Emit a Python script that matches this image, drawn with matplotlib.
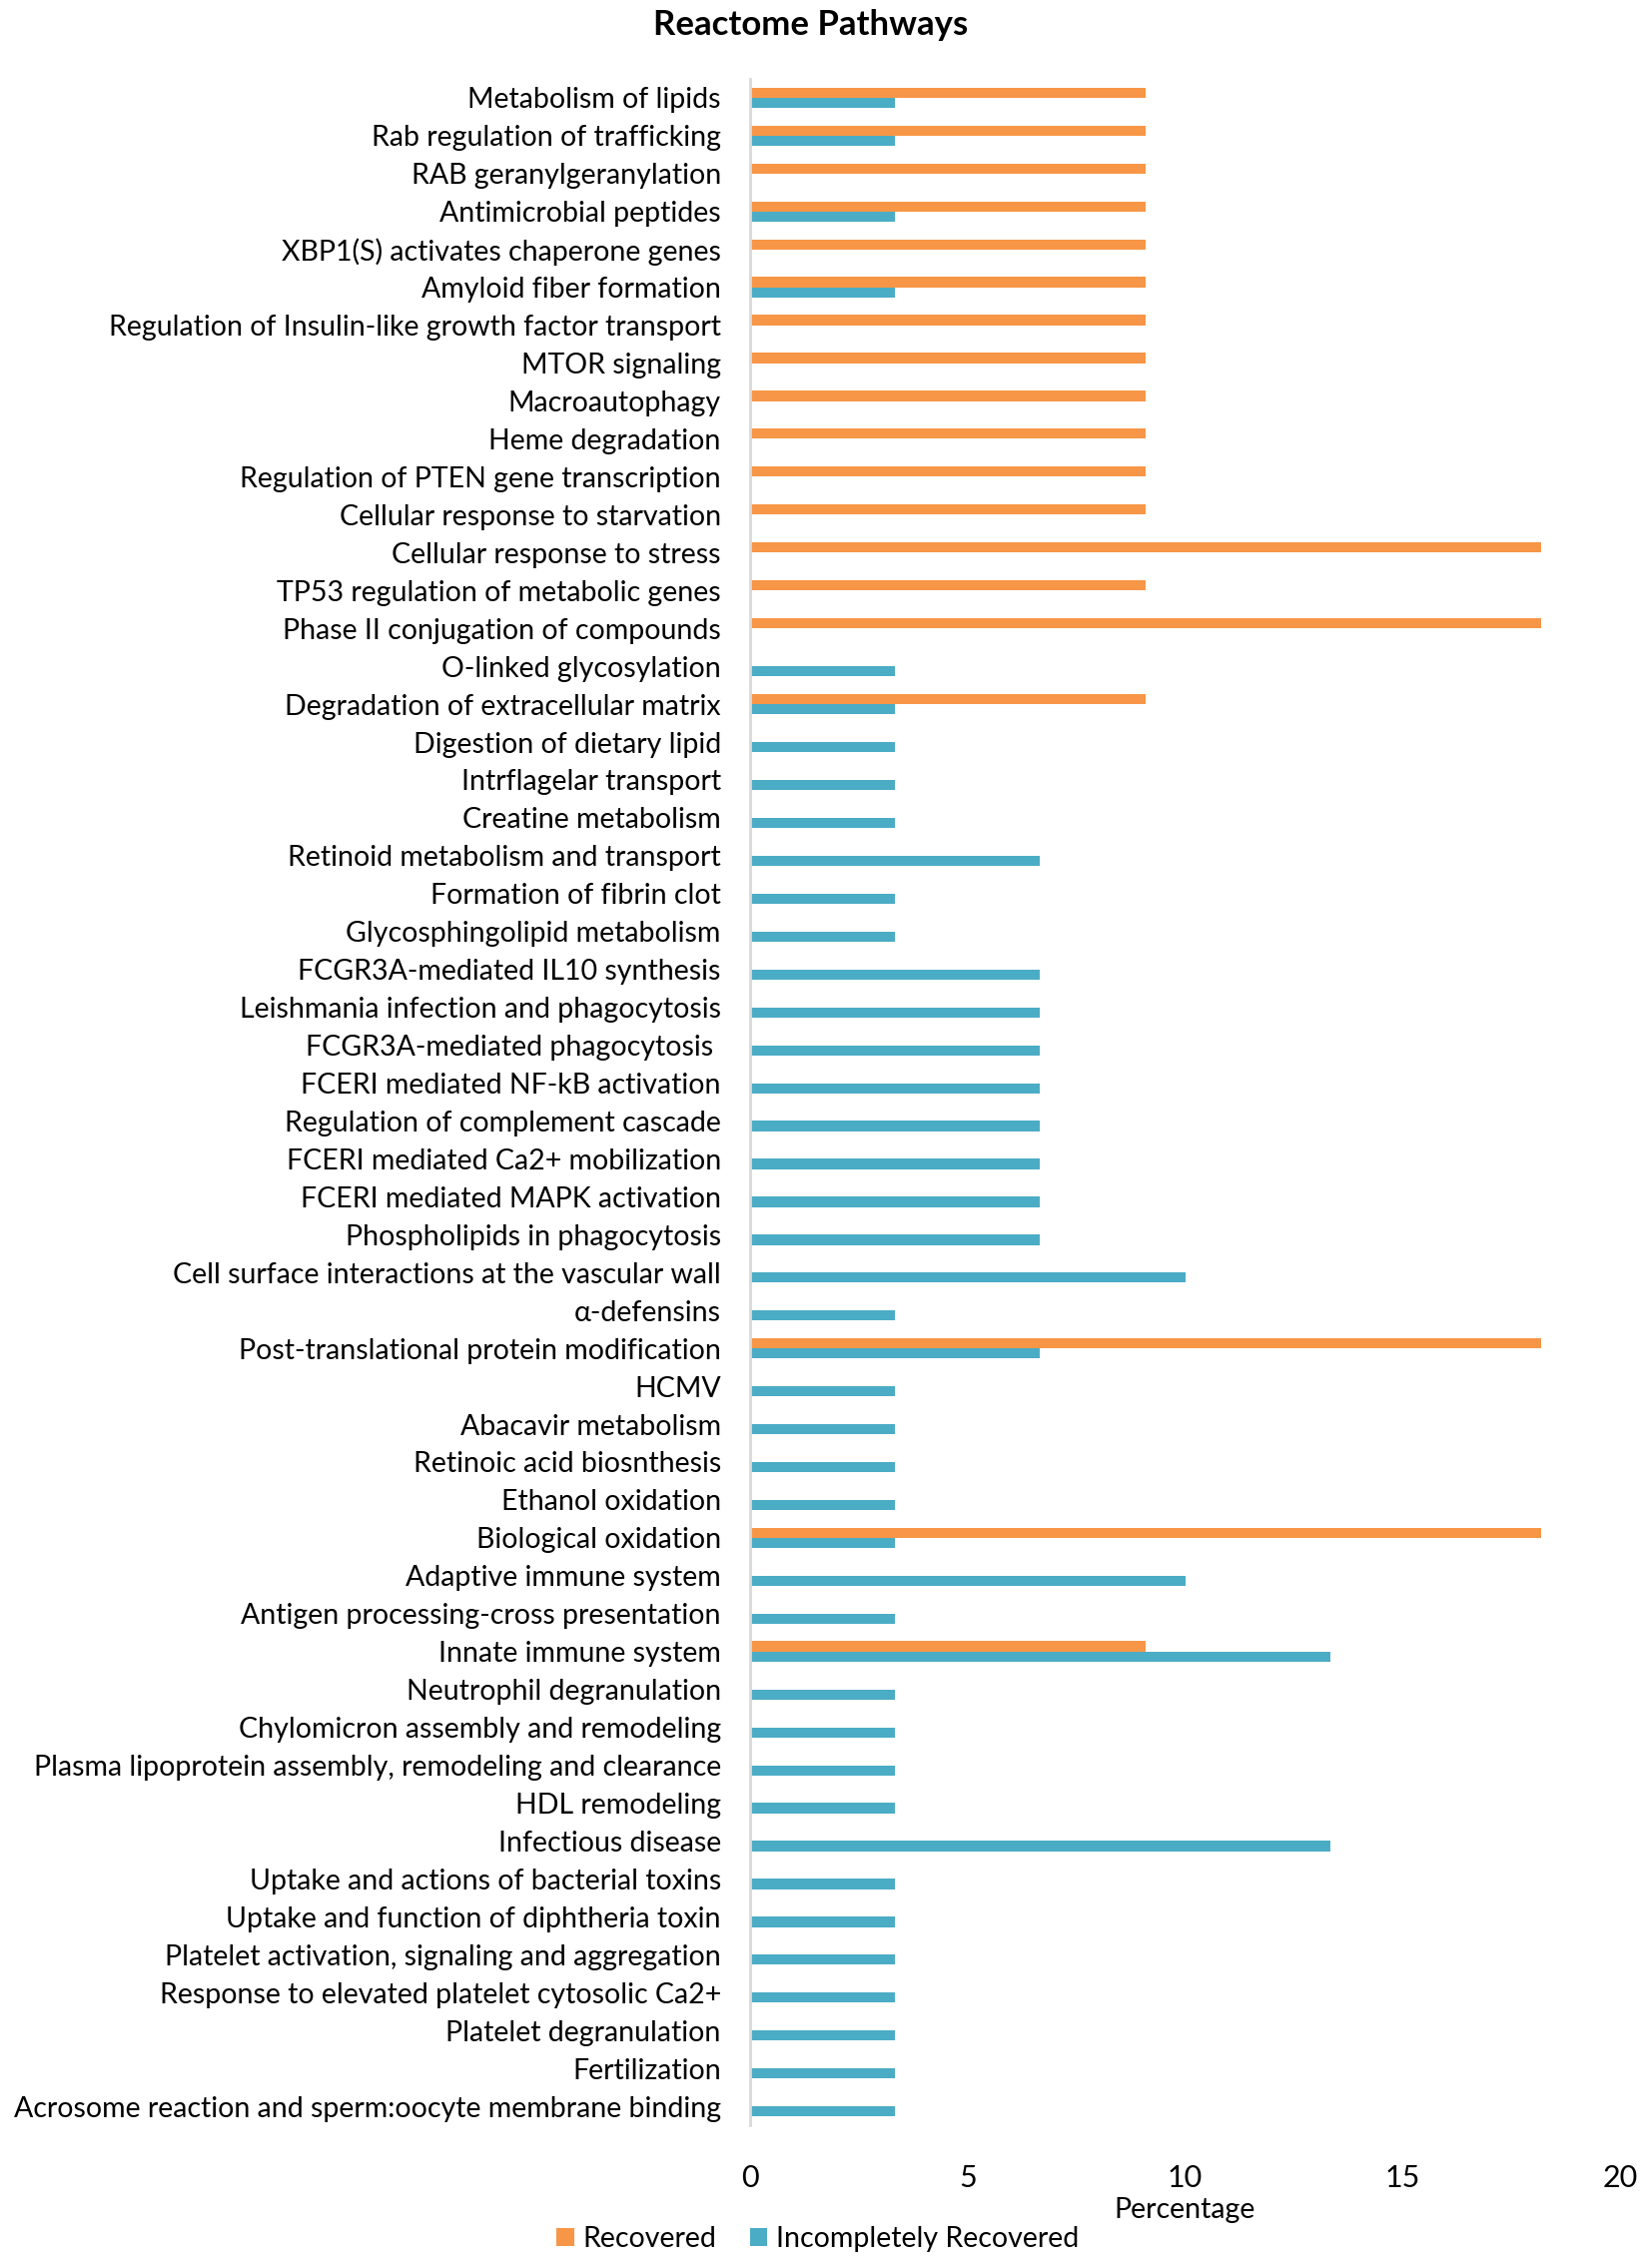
import matplotlib.pyplot as plt
import numpy as np

plt.rcParams['font.family'] = ['Lato', 'DejaVu Sans']

# pathways, top to bottom
pathways = [
    "Metabolism of lipids",
    "Rab regulation of trafficking",
    "RAB geranylgeranylation",
    "Antimicrobial peptides",
    "XBP1(S) activates chaperone genes",
    "Amyloid fiber formation",
    "Regulation of Insulin-like growth factor transport",
    "MTOR signaling",
    "Macroautophagy",
    "Heme degradation",
    "Regulation of PTEN gene transcription",
    "Cellular response to starvation",
    "Cellular response to stress",
    "TP53 regulation of metabolic genes",
    "Phase II conjugation of compounds",
    "O-linked glycosylation",
    "Degradation of extracellular matrix",
    "Digestion of dietary lipid",
    "Intrflagelar transport",
    "Creatine metabolism",
    "Retinoid metabolism and transport",
    "Formation of fibrin clot",
    "Glycosphingolipid metabolism",
    "FCGR3A-mediated IL10 synthesis",
    "Leishmania infection and phagocytosis",
    "FCGR3A-mediated phagocytosis ",
    "FCERI mediated NF-kB activation",
    "Regulation of complement cascade",
    "FCERI mediated Ca2+ mobilization",
    "FCERI mediated MAPK activation",
    "Phospholipids in phagocytosis",
    "Cell surface interactions at the vascular wall",
    "\u03b1-defensins",
    "Post-translational protein modification",
    "HCMV",
    "Abacavir metabolism",
    "Retinoic acid biosnthesis",
    "Ethanol oxidation",
    "Biological oxidation",
    "Adaptive immune system",
    "Antigen processing-cross presentation",
    "Innate immune system",
    "Neutrophil degranulation",
    "Chylomicron assembly and remodeling",
    "Plasma lipoprotein assembly, remodeling and clearance",
    "HDL remodeling",
    "Infectious disease",
    "Uptake and actions of bacterial toxins",
    "Uptake and function of diphtheria toxin",
    "Platelet activation, signaling and aggregation",
    "Response to elevated platelet cytosolic Ca2+",
    "Platelet degranulation",
    "Fertilization",
    "Acrosome reaction and sperm:oocyte membrane binding",
]

recovered = [
    9.09, 9.09, 9.09, 9.09, 9.09, 9.09, 9.09, 9.09, 9.09, 9.09,
    9.09, 9.09, 18.18, 9.09, 18.18, 0, 9.09, 0, 0, 0,
    0, 0, 0, 0, 0, 0, 0, 0, 0, 0,
    0, 0, 0, 18.18, 0, 0, 0, 0, 18.18, 0,
    0, 9.09, 0, 0, 0, 0, 0, 0, 0, 0,
    0, 0, 0, 0,
]

incompletely = [
    3.33, 3.33, 0, 3.33, 0, 3.33, 0, 0, 0, 0,
    0, 0, 0, 0, 0, 3.33, 3.33, 3.33, 3.33, 3.33,
    6.67, 3.33, 3.33, 6.67, 6.67, 6.67, 6.67, 6.67, 6.67, 6.67,
    6.67, 10.0, 3.33, 6.67, 3.33, 3.33, 3.33, 3.33, 3.33, 10.0,
    3.33, 13.33, 3.33, 3.33, 3.33, 3.33, 13.33, 3.33, 3.33, 3.33,
    3.33, 3.33, 3.33, 3.33,
]

orange = '#F79646'
blue = '#4BACC6'

fig = plt.figure(figsize=(16.54, 22.67), dpi=100)
ax = fig.add_axes([751 / 1654, 1 - 2128 / 2267, (1622 - 751) / 1654, (2128 - 79) / 2267])

y = np.arange(len(pathways))
h = 0.27
ax.barh(y - h / 2, recovered, height=h, color=orange, label='Recovered')
ax.barh(y + h / 2, incompletely, height=h, color=blue, label='Incompletely Recovered')

ax.set_ylim(len(pathways) - 0.5, -0.5)
ax.set_xlim(0, 20)
ax.set_xticks([0, 5, 10, 15, 20])
ax.set_yticks(y)
ax.set_yticklabels(pathways, fontsize=20.5)
ax.tick_params(axis='x', labelsize=22, length=0, pad=28)
ax.tick_params(axis='y', length=0, pad=21)

for s in ['top', 'right', 'bottom']:
    ax.spines[s].set_visible(False)
ax.spines['left'].set_color('#d9d9d9')
ax.spines['left'].set_linewidth(2)

ax.set_xlabel('Percentage', fontsize=20.5, labelpad=4)
fig.suptitle('Reactome Pathways', fontsize=25, fontweight='bold', x=0.491, y=0.996)

fig.legend(loc='lower center', bbox_to_anchor=(0.495, -0.006), ncol=2, frameon=False,
           fontsize=20.5, handlelength=0.6, handleheight=0.6, handletextpad=0.3, columnspacing=1.2)

fig.savefig('out.png', dpi=100)
